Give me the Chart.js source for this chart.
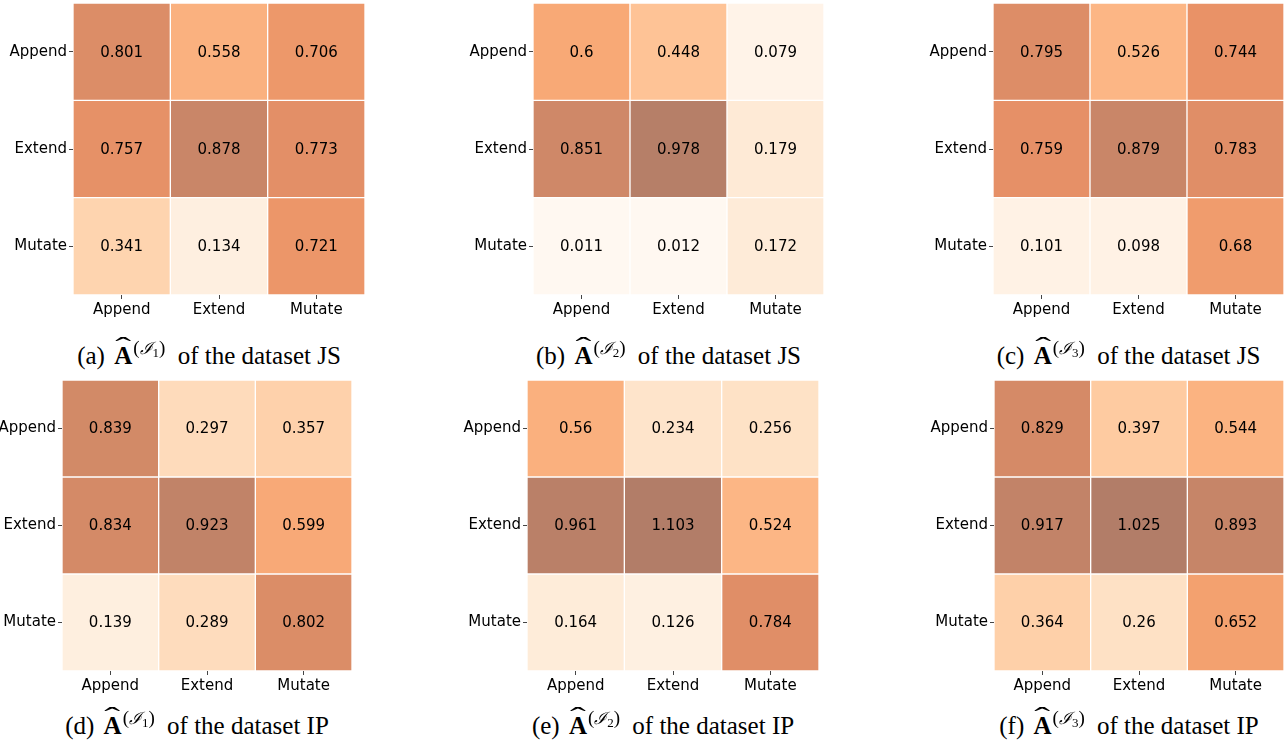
<!DOCTYPE html>
<html>
<head>
<meta charset="utf-8">
<script src="https://cdn.jsdelivr.net/npm/chart.js@4.4.1/dist/chart.umd.min.js"></script>
<style>
  html, body { margin: 0; padding: 0; background: #fff; width: 1286px; height: 750px; overflow: hidden; }
  #page { position: relative; width: 1286px; height: 750px; overflow: hidden; }
  canvas { position: absolute; }
  .cap {
    position: absolute; white-space: nowrap; transform: translateX(-50%);
    font-family: "Liberation Serif", "Times New Roman", serif; font-size: 25px; line-height: 25px; color: #000;
  }
  .hatA { position: relative; display: inline-block; font-weight: bold; margin-left: 3px; }
  .hatA .hat { position: absolute; left: 0; right: 0; top: -9px; text-align: center; font-weight: normal; transform: scaleX(1.9); }
  .sup { position: relative; top: -10px; font-size: 19px; margin-left: 1px; margin-right: 6px; }
  .sup .cal { font-family: "DejaVu Serif", serif; font-style: italic; font-size: 17px; }
  .sup .sub { position: relative; top: 3px; font-size: 13px; }
</style>
</head>
<body>
<div id="page"></div>
<script>
// Row / column categories shared by every matrix
const rowLabels = ['Append', 'Extend', 'Mutate'];
const colLabels = ['Append', 'Extend', 'Mutate'];

// Estimated transition matrices, dataset JS
const jsI1 = [[0.801, 0.558, 0.706], [0.757, 0.878, 0.773], [0.341, 0.134, 0.721]];
const jsI2 = [[0.6, 0.448, 0.079], [0.851, 0.978, 0.179], [0.011, 0.012, 0.172]];
const jsI3 = [[0.795, 0.526, 0.744], [0.759, 0.879, 0.783], [0.101, 0.098, 0.68]];
// Estimated transition matrices, dataset IP
const ipI1 = [[0.839, 0.297, 0.357], [0.834, 0.923, 0.599], [0.139, 0.289, 0.802]];
const ipI2 = [[0.56, 0.234, 0.256], [0.961, 1.103, 0.524], [0.164, 0.126, 0.784]];
const ipI3 = [[0.829, 0.397, 0.544], [0.917, 1.025, 0.893], [0.364, 0.26, 0.652]];

// Sub-figure tags, index of the superscript, dataset name
const panelTags = ['a', 'b', 'c', 'd', 'e', 'f'];
const panelIndex = [1, 2, 3, 1, 2, 3];
const panelSets = ['JS', 'JS', 'JS', 'IP', 'IP', 'IP'];
const panelData = [jsI1, jsI2, jsI3, ipI1, ipI2, ipI3];

// Heatmap boxes on the page: left, top, width, height
const panelBoxes = [
  [73, 3, 292, 292], [533, 3, 291, 292], [993, 3, 291, 292],
  [62, 380, 290, 291], [527, 380, 292, 291], [994, 380, 290, 291]
];
const captionBaseline = [364, 364, 364, 734, 734, 734];

const Y_AXIS_W = 73, X_AXIS_H = 40, PAD_TOP = 3, PAD_RIGHT = 2;

// "Oranges" sequential ramp, drawn at 60% opacity over white, clipped to [0, 1]
const ORANGES = [[255,245,235],[254,230,206],[253,208,162],[253,174,107],[253,141,60],
                 [241,105,19],[217,72,1],[166,54,3],[127,39,4]];
function cellColor(v) {
  const t = Math.min(1, Math.max(0, v)) * 8;
  const i = Math.min(7, Math.floor(t));
  const f = t - i;
  const c = ORANGES[i].map((a, k) => a + (ORANGES[i + 1][k] - a) * f);
  const m = c.map(x => Math.round(x * 0.6 + 255 * 0.4));
  return `rgb(${m[0]},${m[1]},${m[2]})`;
}

// Writes each cell's value at its centre
const cellLabels = {
  id: 'cellLabels',
  afterDatasetsDraw(chart) {
    const ctx = chart.ctx;
    ctx.save();
    ctx.font = '15px "DejaVu Sans"';
    ctx.fillStyle = '#000';
    ctx.textAlign = 'center';
    ctx.textBaseline = 'middle';
    chart.data.datasets.forEach((ds, di) => {
      chart.getDatasetMeta(di).data.forEach((bar, ci) => {
        const yc = (bar.y + bar.base) / 2 + 1;
        ctx.fillText(String(ds.values[ci]), bar.x, yc);
      });
    });
    ctx.restore();
  }
};

const page = document.getElementById('page');

panelData.forEach((matrix, p) => {
  const [bx, by, bw, bh] = panelBoxes[p];
  const canvas = document.createElement('canvas');
  const cw = Y_AXIS_W + bw + PAD_RIGHT, ch = PAD_TOP + bh + X_AXIS_H;
  canvas.width = cw; canvas.height = ch;
  canvas.style.left = (bx - Y_AXIS_W) + 'px';
  canvas.style.top = (by - PAD_TOP) + 'px';
  canvas.style.width = cw + 'px'; canvas.style.height = ch + 'px';
  page.appendChild(canvas);

  // one dataset per matrix row; each cell is a floating bar spanning [row, row + 1]
  const datasets = matrix.map((row, r) => ({
    data: row.map(() => [r, r + 1]),
    values: row,
    backgroundColor: row.map(cellColor),
    borderColor: '#ffffff',
    borderWidth: 1,
    borderSkipped: false,
    barPercentage: 1,
    categoryPercentage: 1,
    grouped: false
  }));

  new Chart(canvas, {
    type: 'bar',
    data: { labels: colLabels, datasets },
    plugins: [cellLabels],
    options: {
      responsive: false,
      animation: false,
      events: [],
      layout: { padding: { top: PAD_TOP, right: PAD_RIGHT, left: 0, bottom: 0 } },
      plugins: { legend: { display: false }, tooltip: { enabled: false } },
      scales: {
        x: {
          type: 'category',
          offset: true,
          border: { display: false },
          grid: { display: true, offset: false, drawOnChartArea: false, drawTicks: true, tickLength: 4, color: '#444', lineWidth: 1 },
          ticks: { color: '#000', padding: 2, font: { family: 'DejaVu Sans', size: 15 }, maxRotation: 0, autoSkip: false },
          afterFit(scale) { scale.height = X_AXIS_H; scale.paddingLeft = 0; scale.paddingRight = 0; }
        },
        y: {
          type: 'linear',
          min: 0, max: 3,
          reverse: true,
          border: { display: false },
          grid: { display: true, drawOnChartArea: false, drawTicks: true, tickLength: 4, color: '#444', lineWidth: 1 },
          ticks: {
            color: '#000', padding: 2, font: { family: 'DejaVu Sans', size: 15 },
            callback: (v, i) => rowLabels[i]
          },
          afterBuildTicks(scale) { scale.ticks = rowLabels.map((_, i) => ({ value: i + 0.5 })); },
          afterFit(scale) { scale.width = Y_AXIS_W; scale.paddingTop = 0; scale.paddingBottom = 0; }
        }
      }
    }
  });

  // caption below the heatmap
  const cap = document.createElement('div');
  cap.className = 'cap';
  cap.style.left = (bx + bw / 2 - 10) + 'px';
  cap.style.top = (captionBaseline[p] - 21) + 'px';
  cap.innerHTML = `(${panelTags[p]}) <span class="hatA"><span class="hat">ˆ</span>A</span>` +
    `<span class="sup">(<span class="cal">ℐ</span><span class="sub">${panelIndex[p]}</span>)</span>` +
    ` of the dataset ${panelSets[p]}`;
  page.appendChild(cap);
});
</script>
</body>
</html>
